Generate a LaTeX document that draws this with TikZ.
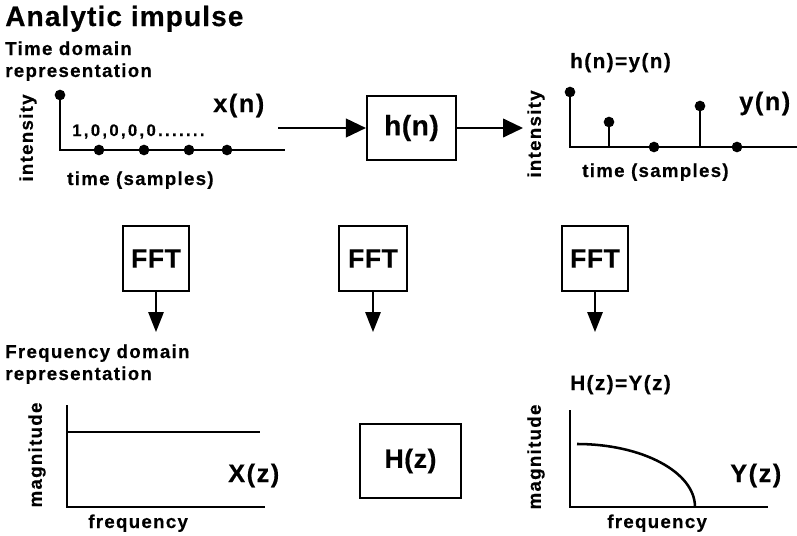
\documentclass[tikz,border=0pt]{standalone}
\usepackage{fontspec}
\setmainfont{Liberation Sans}
\newfontfamily\fTitle{Liberation Sans}[LetterSpace=4,FakeBold=0.4]
\newfontfamily\fLbl{Liberation Sans}[LetterSpace=7,FakeBold=0.4]
\newfontfamily\fNum{Liberation Sans}[LetterSpace=14,FakeBold=0.4]
\newfontfamily\fSig{Liberation Sans}[LetterSpace=6,FakeBold=0.4]
\newfontfamily\fBox{Liberation Sans}[LetterSpace=2,FakeBold=0.4]
\usetikzlibrary{arrows.meta}
\begin{document}
\begin{tikzpicture}[x=0.75pt,y=-0.75pt,
  ttl/.style={font=\fTitle\bfseries\fontsize{21}{23}\selectfont, inner sep=0, anchor=base west},
  lbl/.style={font=\fLbl\bfseries\fontsize{14}{16}\selectfont, inner sep=0, anchor=base west},
  eqlbl/.style={font=\fLbl\bfseries\fontsize{15.5}{17}\selectfont, inner sep=0, anchor=base west},
  numlbl/.style={font=\fNum\bfseries\fontsize{12.5}{14}\selectfont, inner sep=0, anchor=base west},
  sig/.style={font=\fSig\bfseries\fontsize{19}{21}\selectfont, inner sep=0, anchor=base west},
  rot/.style={font=\fLbl\bfseries\fontsize{14}{16}\selectfont, inner sep=0, rotate=90, anchor=center},
  box/.style={draw, line width=1.6pt, inner sep=0, font=\fBox\bfseries\fontsize{20}{22}\selectfont},
  ax/.style={line width=1.9pt},
  stem/.style={line width=1.7pt},
  dot/.style={circle, fill, inner sep=0, minimum size=8pt},
  arrH/.style={line width=1.5pt, -{Triangle[length=15pt,width=14pt]}},
  arrV/.style={line width=1.5pt, -{Triangle[length=15pt,width=11.5pt]}}]
\useasboundingbox (0,0) rectangle (797,536);
% title
\node[ttl] (title) at (5,26) {Analytic impulse};
% time domain input
\node[lbl] (td1) at (5,55) {Time domain};
\node[lbl] (td2) at (5,77) {representation};
\node[rot] (int1) at (28,138) {intensity};
\node[dot] (x0) at (60,95) {};
\coordinate (xo) at (60,150);
\coordinate (xe) at (285,150);
\draw[ax] (x0.center) -- (xo) -- (xe);
\node[dot] (x1) at (99,150) {};
\node[dot] (x2) at (144,150) {};
\node[dot] (x3) at (189,150) {};
\node[dot] (x4) at (227,150) {};
\node[numlbl] (seq) at (72,136) {1,0,0,0,0.......};
\node[sig] (xn) at (213,112) {x(n)};
\node[lbl] (ts1) at (67,185) {time (samples)};
% system
\node[box, minimum width=66.75pt, minimum height=48pt, font=\fBox\bfseries\fontsize{21}{23}\selectfont] (hn) at (411.5,128) {h(n)};
\coordinate (a1s) at (278,128);
\coordinate (a1e) at (523,128);
\draw[arrH] (a1s) -- (hn.west);
\draw[arrH] (hn.east) -- (a1e);
% output time domain
\node[eqlbl] (hy) at (570,68) {h(n)=y(n)};
\node[rot] (int2) at (536,134) {intensity};
\node[dot] (y0) at (570,92) {};
\coordinate (yo) at (570,147);
\coordinate (ye) at (797,147);
\draw[ax] (y0.center) -- (yo) -- (ye);
\node[dot] (y1) at (609,122) {};
\coordinate (y1b) at (609,147);
\draw[stem] (y1b) -- (y1.center);
\node[dot] (y2) at (654,147) {};
\node[dot] (y3) at (700,106) {};
\coordinate (y3b) at (700,147);
\draw[stem] (y3b) -- (y3.center);
\node[dot] (y4) at (737,147) {};
\node[sig] (yn) at (739,110) {y(n)};
\node[lbl] (ts2) at (582,177) {time (samples)};
% FFT boxes
\node[box, minimum width=49.5pt, minimum height=48.75pt] (fft1) at (156,258.5) {FFT};
\node[box, minimum width=51pt, minimum height=48.75pt] (fft2) at (373,258.5) {FFT};
\node[box, minimum width=49.5pt, minimum height=48.75pt] (fft3) at (595,258.5) {FFT};
\coordinate (f1e) at (156,332);
\coordinate (f2e) at (373,332);
\coordinate (f3e) at (595,332);
\draw[arrV] (fft1.south) -- (f1e);
\draw[arrV] (fft2.south) -- (f2e);
\draw[arrV] (fft3.south) -- (f3e);
% frequency domain input
\node[lbl] (fd1) at (5,358) {Frequency domain};
\node[lbl] (fd2) at (5,380) {representation};
\node[rot] (mag1) at (37,455) {magnitude};
\coordinate (m1t) at (67,405);
\coordinate (m1o) at (67,507);
\coordinate (m1e) at (265,507);
\draw[ax] (m1t) -- (m1o) -- (m1e);
\coordinate (fl1) at (67,432);
\coordinate (fl2) at (260,432);
\draw[ax] (fl1) -- (fl2);
\node[sig] (Xz) at (228,482) {X(z)};
\node[lbl] (fr1) at (88,528) {frequency};
% transfer function
\node[box, minimum width=75.75pt, minimum height=56pt] (Hz) at (410.5,461) {H(z)};
% frequency domain output
\node[eqlbl] (hzy) at (570,390) {H(z)=Y(z)};
\node[rot] (mag2) at (536,457) {magnitude};
\coordinate (m2t) at (570,410);
\coordinate (m2o) at (570,507);
\coordinate (m2e) at (768,507);
\draw[ax] (m2t) -- (m2o) -- (m2e);
\coordinate (c1) at (577,444);
\coordinate (c2) at (695,507);
\draw[ax] (c1) .. controls (642,444) and (695,472) .. (c2);
\node[sig] (Yz) at (730,482) {Y(z)};
\node[lbl] (fr2) at (607,528) {frequency};
\end{tikzpicture}
\end{document}
